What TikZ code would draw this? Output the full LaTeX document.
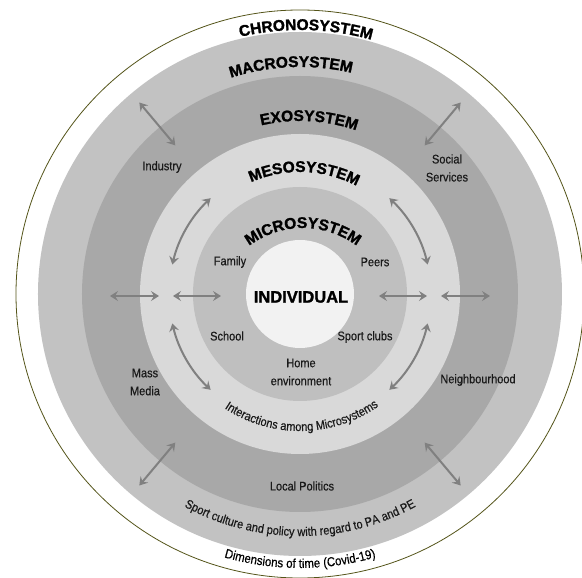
\documentclass[tikz,border=0pt]{standalone}
\usepackage{fontspec}
\setmainfont{Liberation Sans}[FakeStretch=0.88, FakeBold=0.4]
\newfontfamily\headfont{Liberation Sans}[BoldFeatures={FakeBold=1.5}]
\usetikzlibrary{arrows.meta}
\usetikzlibrary{calc}
\usetikzlibrary{decorations.text}
\usetikzlibrary{positioning}
\definecolor{timeline}{rgb}{0.33, 0.33, 0.1}
\definecolor{macrogray}{gray}{0.76}
\definecolor{exogray}{gray}{0.66}
\definecolor{mesogray}{gray}{0.85}
\definecolor{microgray}{gray}{0.75}
\definecolor{selfgray}{gray}{0.95}
\definecolor{linkgray}{gray}{0.5}
\definecolor{labelgray}{gray}{0.1}
\newcommand{\headfmt}{\headfont\bfseries\fontsize{15.5}{16}\selectfont}
\newcommand{\lblfmt}{\fontsize{12.5}{18}\selectfont}
\tikzset{link/.style = {draw=linkgray, line width=2pt,
                        {Stealth[length=8pt, width=10pt, inset=3pt]}-{Stealth[length=8pt, width=10pt, inset=3pt]}}}
\tikzset{lbl/.style = {text=labelgray, font=\lblfmt, align=center, inner sep=0}}
\tikzset{arctext/.style = {decorate, decoration={text along path, text align=center, text={#1}}}}

\begin{document}
\begin{tikzpicture}[x=1pt, y=1pt]
      \useasboundingbox (-300, -284) rectangle (282, 294);

      % rings
      \draw [timeline, line width=0.8pt, fill=white] (0, 0) circle [radius=284];
      \fill [macrogray] (0, 0) circle [radius=262];
      \fill [exogray] (0, 0) circle [radius=218];
      \fill [mesogray] (0, 0) circle [radius=160];
      \fill [microgray] (0, 0) circle [radius=107];
      \fill [selfgray] (0, 0) circle [radius=54];

      % system names along the top
      \path [arctext={|\headfmt|CHRONOSYSTEM}] (148.7:264) arc [start angle=148.7, end angle=28.7, radius=264];
      \path [arctext={|\headfmt|MACROSYSTEM}] (152.3:227) arc [start angle=152.3, end angle=32.3, radius=227];
      \path [arctext={|\headfmt|EXOSYSTEM}] (157:173) arc [start angle=157, end angle=17, radius=173];
      \path [arctext={|\headfmt|MESOSYSTEM}] (168:122) arc [start angle=168, end angle=8, radius=122];
      \path [arctext={|\headfmt|MICROSYSTEM}] ($(3, -24) + (170:90)$) arc [start angle=170, end angle=10, radius=90];

      % texts along the bottom
      \path [arctext={|\lblfmt\color{labelgray}|Interactions among Microsystems}] (190.8:137) arc [start angle=190.8, end angle=350.8, radius=137];
      \path [arctext={|\lblfmt\color{labelgray}|Sport culture and policy with regard to PA and PE}] (210:242) arc [start angle=210, end angle=330, radius=242];
      \path [arctext={|\fontsize{13}{15}\selectfont\color{black}|Dimensions of time (Covid-19)}] (230:274) arc [start angle=230, end angle=310, radius=274];

      \node (self) at (1, -3) {\headfont\bfseries\fontsize{16.5}{18}\selectfont INDIVIDUAL};

      \node [lbl] (family) at (-70, 32) {Family};
      \node [lbl] (peers) at (75, 32) {Peers};
      \node [lbl] (school) at (-73, -42) {School};
      \node [lbl] (clubs) at (65, -43) {Sport clubs};
      \node [lbl] (home) at (1, -78) {Home\\environment};
      \node [lbl] (industry) at (-138, 127) {Industry};
      \node [lbl] (social) at (147, 126) {Social\\Services};
      \node [lbl] (media) at (-155, -88) {Mass\\Media};
      \node [lbl] (neighbours) at (178, -86) {Neighbourhood};
      \node [lbl] (politics) at (2, -192) {Local Politics};

      % radial arrows between exosystem and macrosystem
      \foreach \a in {50, 130, 230, 310} {
        \coordinate (rin-\a) at (\a:194);
        \coordinate (rout-\a) at (\a:250);
        \draw [link] (rin-\a) -- (rout-\a);
      }

      % horizontal arrows
      \foreach \s/\n in {-1/w, 1/e} {
        \coordinate (hin-\n) at (\s*79, -2);
        \coordinate (hmid-\n) at (\s*127, -2);
        \coordinate (hout-\n) at (\s*141, -2);
        \coordinate (hend-\n) at (\s*190, -2);
        \draw [link] (hin-\n) -- (hmid-\n);
        \draw [link] (hout-\n) -- (hend-\n);
      }

      % curved arrows in the mesosystem
      \foreach \a in {0, 180} {
        \coordinate (cup-\a) at (\a+13:131);
        \coordinate (cdown-\a) at (\a-13:131);
        \draw [link] (cup-\a) arc [start angle=\a+13, end angle=\a+47, radius=131];
        \draw [link] (cdown-\a) arc [start angle=\a-13, end angle=\a-47, radius=131];
      }
    \end{tikzpicture}
\end{document}
